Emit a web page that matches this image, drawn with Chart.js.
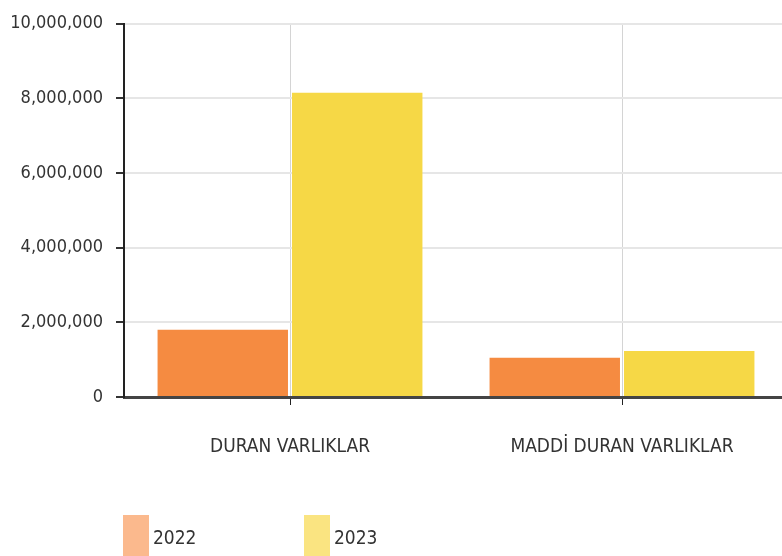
<!DOCTYPE html>
<html>
<head>
<meta charset="utf-8">
<script src="https://cdn.jsdelivr.net/npm/chart.js@4/dist/chart.umd.min.js"></script>
<style>
  html, body { margin: 0; padding: 0; background: #fff; overflow: hidden; }
  #wrap { position: relative; width: 790px; height: 556px; }
  #legend { position: absolute; left: 123px; top: 515px; display: flex; }
  .item { display: flex; align-items: flex-start; width: 181px; }
  .box { width: 26px; height: 44px; }
  .lbl { font-family: "DejaVu Sans Condensed", "Liberation Sans Narrow", sans-serif; font-size: 19px; color: #333; margin-left: 4px; margin-top: 11px; }
</style>
</head>
<body>
<div id="wrap">
  <canvas id="bar-chart" width="790" height="556"></canvas>
  <div id="legend"></div>
</div>
<script>
var categories = ["DURAN VARLIKLAR", "MADDİ DURAN VARLIKLAR"];
var series2022 = [1800000, 1050000];
var series2023 = [8150000, 1230000];
var yTicks = [0, 2000000, 4000000, 6000000, 8000000, 10000000];

var fontFamily = '"DejaVu Sans Condensed", "Liberation Sans Narrow", sans-serif';

var datasets = [
  { label: "2022", data: series2022, backgroundColor: "#f58b41", legendColor: "#fbb98d" },
  { label: "2023", data: series2023, backgroundColor: "#f6d846", legendColor: "#fae481" }
];

new Chart(document.getElementById("bar-chart"), {
  type: 'bar',
  data: {
    labels: categories,
    datasets: datasets.map(function (d) {
      return {
        label: d.label,
        data: d.data,
        backgroundColor: d.backgroundColor,
        borderWidth: 0,
        categoryPercentage: 0.81,
        barPercentage: 0.97
      };
    })
  },
  options: {
    responsive: false,
    animation: false,
    layout: { padding: { top: 20, right: 2, left: 0, bottom: 0 } },
    plugins: {
      legend: { display: false },
      tooltip: { enabled: false }
    },
    scales: {
      x: {
        grid: { offset: false, color: "#d4d4d4", lineWidth: 1, tickColor: "#222", tickLength: 8 },
        border: { color: "#444", width: 3 },
        ticks: { color: "#333", padding: 31, font: { family: fontFamily, size: 19 } },
        afterFit: function (scale) { scale.height = 159; }
      },
      y: {
        min: 0,
        max: 10000000,
        afterBuildTicks: function (scale) {
          scale.ticks = yTicks.map(function (v) { return { value: v }; });
        },
        grid: { color: "#e6e6e6", lineWidth: 2, tickColor: "#333", tickLength: 8 },
        border: { color: "#222", width: 2 },
        ticks: {
          color: "#333",
          padding: 13,
          font: { family: fontFamily, size: 18 },
          callback: function (v) { return v.toLocaleString("en-US"); }
        },
        afterFit: function (scale) { scale.width = 124; }
      }
    }
  }
});

var legend = document.getElementById("legend");
datasets.forEach(function (d) {
  var item = document.createElement("div");
  item.className = "item";
  var box = document.createElement("div");
  box.className = "box";
  box.style.background = d.legendColor;
  var lbl = document.createElement("div");
  lbl.className = "lbl";
  lbl.textContent = d.label;
  item.appendChild(box);
  item.appendChild(lbl);
  legend.appendChild(item);
});
</script>
</body>
</html>
